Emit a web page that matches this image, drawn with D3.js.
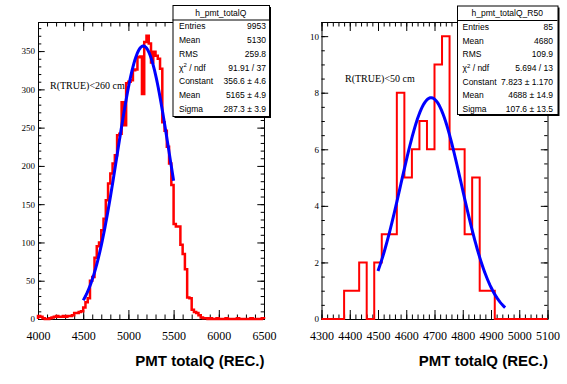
<!DOCTYPE html>
<html>
<head>
<meta charset="utf-8">
<script src="https://cdn.jsdelivr.net/npm/d3@7"></script>
<style>
  body { margin: 0; background: #fff; }
  svg { display: block; }
  .tick text { font-family: "Liberation Serif", "Times New Roman", serif; fill: #000; }
  .stat { font-family: "Liberation Sans", Arial, sans-serif; font-size: 8.5px; fill: #000; }
  .xtitle { font-family: "Liberation Sans", Arial, sans-serif; font-size: 15px; font-weight: bold; }
  .note { font-family: "Liberation Serif", "Times New Roman", serif; font-size: 10px; }
</style>
</head>
<body>
<svg id="chart" width="567" height="384"></svg>
<script>
// ---- h_pmt_totalQ (100 bins, 4000 - 6500)
const leftRange = [4000, 6500];
const leftCounts = [
  4, 3, 1, 0, 0, 1, 2, 3, 4, 3, 3, 4, 3, 4, 4, 5, 8, 8, 9, 10,
  15, 22, 27, 50, 55, 80, 95, 100, 116, 131,
  155, 177, 190, 203, 214, 240, 242, 283, 253, 308,
  310, 312, 325, 326, 342, 343, 294, 362, 370, 360,
  335, 349, 344, 340, 327, 257, 246, 225, 203, 175,
  124, 121, 121, 97, 85, 65, 28, 27, 12, 9, 8, 5, 2,
  1, 1, 0, 1, 0, 0, 1, 0, 0, 0, 1, 0, 0, 0, 0, 1, 0, 0, 0, 0, 0, 1, 0, 0, 0, 0, 1
];
const leftFit = [356.6, 5165, 287.3];      // constant, mean, sigma
const leftFitRange = [4500, 5500];
const leftStats = [
  ["Entries", "9953"], ["Mean", "5130"], ["RMS", "259.8"], ["chi", "91.91 / 37"],
  ["Constant", "356.6 \u00b1 4.6"], ["Mean", "5165 \u00b1 4.9"], ["Sigma", "287.3 \u00b1 3.9"]
];

// ---- h_pmt_totalQ_R50 (30 bins, 4300 - 5100)
const rightRange = [4300, 5100];
const rightCounts = [0, 0, 0, 1, 1, 2, 0, 2, 3, 3, 8, 5, 6, 7, 6, 9, 10, 6, 6, 3, 5, 1, 1, 0, 0, 0, 0, 0, 0, 0];
const rightFit = [7.823, 4688, 107.6];
const rightFitRange = [4500, 4950];
const rightStats = [
  ["Entries", "85"], ["Mean", "4680"], ["RMS", "109.9"], ["chi", "5.694 / 13"],
  ["Constant", "7.823 \u00b1 1.170"], ["Mean", "4688 \u00b1 14.9"], ["Sigma", "107.6 \u00b1 13.5"]
];

const svg = d3.select("#chart");

function drawPanel(cfg) {
  const g = svg.append("g");
  const x = d3.scaleLinear().domain(cfg.range).range([cfg.fx0, cfg.fx1]);
  const y = d3.scaleLinear().domain([0, cfg.yMax]).range([cfg.fy1, cfg.fy0]);

  // frame
  g.append("rect")
    .attr("x", cfg.fx0 + 0.5).attr("y", cfg.fy0 + 0.5)
    .attr("width", cfg.fx1 - cfg.fx0).attr("height", cfg.fy1 - cfg.fy0)
    .attr("fill", "none").attr("stroke", "#000");

  // ticks (inside, on all four sides)
  const noLab = () => "";
  const put = (axis, tx, ty) => {
    const a = g.append("g").attr("transform", `translate(${tx},${ty})`).call(axis);
    a.select(".domain").remove();
    a.selectAll("line").attr("stroke", "#000");
    return a;
  };
  put(d3.axisBottom(x).tickValues(cfg.xMinor).tickSize(-4.5).tickFormat(noLab), 0, cfg.fy1);
  put(d3.axisTop(x).tickValues(cfg.xMinor).tickSize(-4.5).tickFormat(noLab), 0, cfg.fy0);
  put(d3.axisTop(x).tickValues(cfg.xMajor).tickSize(-9).tickFormat(noLab), 0, cfg.fy0);
  put(d3.axisBottom(x).tickValues(cfg.xMajor).tickSize(-9).tickPadding(12).tickFormat(d3.format("d")), 0, cfg.fy1)
    .selectAll("text").style("font-size", "12px");

  put(d3.axisLeft(y).tickValues(cfg.yMinor).tickSize(-3.3).tickFormat(noLab), cfg.fx0, 0);
  put(d3.axisRight(y).tickValues(cfg.yMinor).tickSize(-3.3).tickFormat(noLab), cfg.fx1, 0);
  put(d3.axisRight(y).tickValues(cfg.yMajor).tickSize(-6.7).tickFormat(noLab), cfg.fx1, 0);
  put(d3.axisLeft(y).tickValues(cfg.yMajor).tickSize(-6.7).tickPadding(cfg.yPad).tickFormat(d3.format("d")), cfg.fx0, 0)
    .selectAll("text").style("font-size", "9px");

  // histogram outline
  const n = cfg.counts.length;
  const bw = (cfg.range[1] - cfg.range[0]) / n;
  const pts = [[cfg.range[0], 0]];
  cfg.counts.forEach((c, i) => pts.push([cfg.range[0] + i * bw, c]));
  pts.push([cfg.range[1], cfg.counts[n - 1]]);
  pts.push([cfg.range[1], 0]);
  g.append("path")
    .attr("d", d3.line().x(d => x(d[0])).y(d => y(d[1])).curve(d3.curveStepAfter)(pts))
    .attr("fill", "none").attr("stroke", "#ff0000")
    .attr("stroke-width", cfg.hw).attr("stroke-linejoin", "miter");

  // gaussian fit
  const [A, mu, sig] = cfg.fit;
  const xs = d3.range(101).map(i => cfg.fitRange[0] + (cfg.fitRange[1] - cfg.fitRange[0]) * i / 100);
  g.append("path")
    .attr("d", d3.line().x(d => x(d)).y(d => y(A * Math.exp(-0.5 * ((d - mu) / sig) ** 2)))(xs))
    .attr("fill", "none").attr("stroke", "#0000ff").attr("stroke-width", 3);

  // note
  g.append("text").attr("class", "note")
    .attr("x", cfg.note[1]).attr("y", cfg.note[2]).text(cfg.note[0]);

  // x title
  g.append("text").attr("class", "xtitle")
    .attr("x", cfg.fx1 + 0.5).attr("y", 366).attr("text-anchor", "end")
    .text("PMT totalQ (REC.)");

  // stats box
  const b = cfg.box;
  const sb = g.append("g").attr("transform", `translate(${b.x},${b.y})`);
  sb.append("rect").attr("x", 2).attr("y", 2).attr("width", b.w).attr("height", b.h).attr("fill", "#000");
  sb.append("rect").attr("x", 0.5).attr("y", 0.5).attr("width", b.w).attr("height", b.h)
    .attr("fill", "#fff").attr("stroke", "#000");
  sb.append("line").attr("x1", 0).attr("x2", b.w).attr("y1", b.sep + 0.5).attr("y2", b.sep + 0.5)
    .attr("stroke", "#000");
  sb.append("text").attr("class", "stat").attr("x", b.w / 2).attr("y", b.sep - 4)
    .attr("text-anchor", "middle").text(cfg.name);
  cfg.stats.forEach((r, i) => {
    const yy = b.sep + 9.9 + i * 13.7;
    const t = sb.append("text").attr("class", "stat").attr("x", b.tl).attr("y", yy);
    if (r[0] === "chi") {
      t.append("tspan").text("\u03c7");
      t.append("tspan").attr("dy", -3.5).style("font-size", "6px").text("2");
      t.append("tspan").attr("dy", 3.5).text(" / ndf");
    } else {
      t.text(r[0]);
    }
    sb.append("text").attr("class", "stat").attr("x", b.vr).attr("y", yy)
      .attr("text-anchor", "end").text(r[1]);
  });
}

drawPanel({
  name: "h_pmt_totalQ",
  range: leftRange, counts: leftCounts, yMax: 388,
  fit: leftFit, fitRange: leftFitRange, stats: leftStats,
  fx0: 38, fx1: 264, fy0: 22, fy1: 319,
  xMajor: d3.range(4000, 6501, 500), xMinor: d3.range(4000, 6501, 100),
  yMajor: d3.range(0, 351, 50), yMinor: d3.range(0, 381, 10), yPad: 3,
  hw: 2.5,
  note: ["R(TRUE)<260 cm", 50, 88.5],
  box: { x: 172.5, y: 5, w: 96.5, h: 111, sep: 14.5, tl: 6.5, vr: 93.5 }
});

drawPanel({
  name: "h_pmt_totalQ_R50",
  range: rightRange, counts: rightCounts, yMax: 10.5,
  fit: rightFit, fitRange: rightFitRange, stats: rightStats,
  fx0: 321.5, fx1: 547.5, fy0: 22, fy1: 319,
  xMajor: d3.range(4300, 5101, 100), xMinor: d3.range(4300, 5101, 20),
  yMajor: d3.range(0, 11, 2), yMinor: d3.range(0, 10.6, 0.5), yPad: 2.5,
  hw: 2,
  note: ["R(TRUE)<50 cm", 345, 82],
  box: { x: 457, y: 5.5, w: 100.5, h: 108.5, sep: 14.5, tl: 5.5, vr: 96 }
});
</script>
</body>
</html>
